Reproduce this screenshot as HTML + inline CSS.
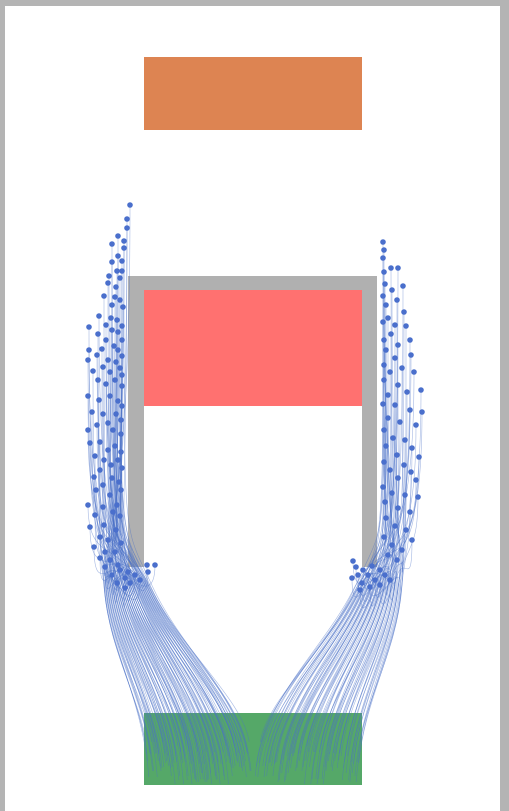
<!DOCTYPE html>
<html><head><meta charset="utf-8"><style>
html,body{margin:0;padding:0;background:#b4b4b4;}
#wrap{position:relative;width:509px;height:811px;overflow:hidden;background:#b4b4b4;}
svg{position:absolute;left:0;top:0;}
</style></head><body>
<div id="wrap">
<svg id="sv" width="509" height="811" viewBox="0 0 509 811">
<rect x="5" y="6" width="495" height="805" fill="#ffffff"/>
<rect x="144" y="57" width="218" height="73" fill="#dd8452"/>
<rect x="128" y="276" width="249" height="14" fill="#b0b0b0"/>
<rect x="128" y="276" width="16" height="291" fill="#b0b0b0"/>
<rect x="362" y="276" width="15" height="291" fill="#b0b0b0"/>
<rect x="144" y="290" width="218" height="116" fill="#ff7170"/>
<rect x="144" y="713" width="218" height="72" fill="#55a868"/>
<g id="trails"></g>
<g id="agents"></g>
</svg>
</div>
<script>
const leftAgents=[[130,205],[127,219],[127,228],[118,236],[124,241],[112,244],[124,248],[118,256],[122,261],[112,262],[117,271],[122,271],[109,276],[120,278],[108,283],[116,287],[104,296],[115,297],[120,300],[112,305],[123,307],[99,316],[111,318],[117,320],[106,325],[89,327],[122,326],[112,330],[98,334],[118,332],[106,340],[122,340],[114,346],[89,350],[102,349],[118,350],[97,355],[122,356],[88,360],[108,360],[116,362],[103,367],[120,368],[93,371],[110,372],[122,375],[98,380],[115,380],[106,384],[122,386],[88,396],[110,396],[99,400],[118,401],[122,406],[92,412],[103,414],[116,414],[121,420],[108,423],[97,425],[88,430],[113,430],[121,434],[100,442],[90,443],[115,446],[108,450],[121,452],[95,456],[104,460],[118,460],[111,465],[122,468],[100,470],[94,477],[112,478],[119,482],[103,485],[96,490],[121,490],[110,495],[88,505],[117,505],[103,507],[113,512],[95,515],[120,516],[90,527],[104,525],[116,530],[100,537],[108,540],[121,543],[94,547],[105,552],[115,552],[100,558],[110,560],[118,565],[105,567],[120,570],[128,572],[112,575],[135,575],[125,578],[147,565],[155,565],[148,572],[130,583],[140,580],[117,583],[125,588]];
const rightAgents=[[383,242],[384,250],[383,258],[391,268],[398,268],[384,272],[385,284],[392,290],[403,286],[383,296],[397,300],[386,305],[404,312],[388,318],[383,322],[395,325],[406,326],[391,334],[384,340],[410,340],[398,345],[386,350],[411,355],[395,358],[384,365],[402,368],[390,372],[414,372],[421,390],[384,380],[398,385],[388,395],[407,392],[383,404],[395,405],[422,412],[410,410],[388,418],[400,422],[384,430],[416,425],[393,438],[405,440],[386,446],[412,448],[397,455],[384,462],[419,457],[404,465],[390,470],[411,472],[398,478],[383,487],[416,480],[392,493],[405,495],[385,502],[418,497],[398,508],[410,512],[386,518],[395,526],[406,530],[384,537],[412,540],[392,545],[402,550],[388,555],[397,560],[353,561],[356,567],[363,570],[372,566],[380,570],[358,575],[368,575],[385,575],[352,578],[375,580],[362,583],[390,580],[370,587],[380,585],[360,590]];
const NS="http://www.w3.org/2000/svg";
const tg=document.getElementById('trails'),ag=document.getElementById('agents');
function draw(list,side){
  const n=list.length;
  list.forEach((p,i)=>{
    const k=(i*37)%n/n;
    const ex=side<0?146+k*106:360-k*106;
    const ey=742+((i*i*7+i*3)%43);
    const cx=side<0?104+k*50:402-k*50;
    const cy=586+((i*i*5)%12);
    const path=document.createElementNS(NS,'path');
    const d=`M${ex},${ey} C${ex+side*6},${700} ${cx-side*(5+k*25)},${650} ${cx},${cy} S${p[0]},${Math.max(p[1]+60,555)} ${p[0]},${p[1]}`;
    path.setAttribute('d',d);
    path.setAttribute('fill','none');
    path.setAttribute('stroke','#4c72c8');
    path.setAttribute('stroke-opacity','0.5');
    path.setAttribute('stroke-width','0.6');
    
    
    tg.appendChild(path);
  });
  list.forEach(p=>{
    const c=document.createElementNS(NS,'circle');
    c.setAttribute('cx',p[0]);c.setAttribute('cy',p[1]);c.setAttribute('r','2.8');
    c.setAttribute('fill','#4a6fcc');
    
    
    ag.appendChild(c);
  });
}
draw(leftAgents,-1);
draw(rightAgents,1);
</script>
</body></html>
